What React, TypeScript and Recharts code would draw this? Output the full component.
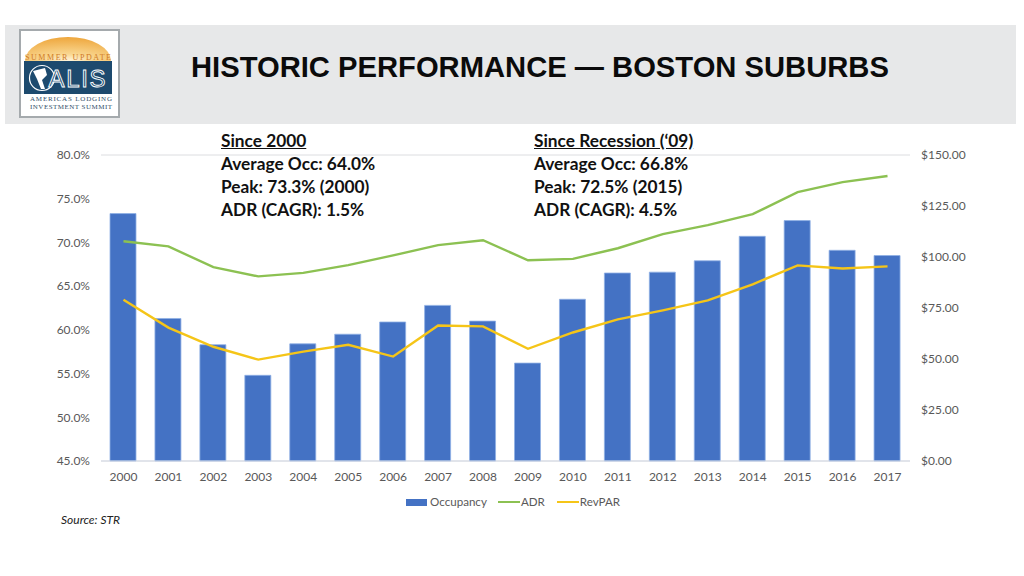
import { Bar, CartesianGrid, ComposedChart, Legend, Line, XAxis, YAxis } from 'recharts'

const YEARS = ['2000', '2001', '2002', '2003', '2004', '2005', '2006', '2007', '2008', '2009', '2010', '2011', '2012', '2013', '2014', '2015', '2016', '2017']
const OCCUPANCY = [73.3, 61.3, 58.3, 54.8, 58.4, 59.5, 60.9, 62.8, 61.0, 56.2, 63.5, 66.5, 66.6, 67.9, 70.7, 72.5, 69.1, 68.5]
const ADR = [107.7, 105.2, 95, 90.5, 92.2, 96, 100.8, 105.8, 108.2, 98.4, 99.1, 104.3, 111.2, 115.6, 121, 131.8, 136.7, 139.7]
const REVPAR = [79, 65.4, 56, 49.7, 53.6, 57, 51.2, 66.4, 66, 55, 63, 69.4, 73.8, 78.7, 86.6, 95.9, 94.4, 95.4]
const OCC_TICKS = [45, 50, 55, 60, 65, 70, 75, 80]
const USD_TICKS = [0, 25, 50, 75, 100, 125, 150]
const SINCE_2000 = ['Average Occ: 64.0%', 'Peak: 73.3% (2000)', 'ADR (CAGR): 1.5%']
const SINCE_RECESSION = ['Average Occ: 66.8%', 'Peak: 72.5% (2015)', 'ADR (CAGR): 4.5%']

const chartData = YEARS.map((year, i) => ({
  year,
  occupancy: OCCUPANCY[i],
  adr: ADR[i],
  revpar: REVPAR[i],
}))

const BODY_FONT = 'Lato, "Open Sans", sans-serif'
const TICK = { fontSize: 12, fill: '#595959', fontFamily: BODY_FONT }

function Callout({ left, heading, lines }: { left: number; heading: string; lines: string[] }) {
  return (
    <div style={{ position: 'absolute', left, top: 129, fontFamily: BODY_FONT, fontWeight: 700, fontSize: 17.3, lineHeight: '23px', color: '#111', whiteSpace: 'nowrap' }}>
      <div style={{ textDecoration: 'underline' }}>{heading}</div>
      {lines.map((line) => (
        <div key={line}>{line}</div>
      ))}
    </div>
  )
}

// rough redraw of the summit logo
function Logo() {
  return (
    <svg width={102} height={90} style={{ position: 'absolute', left: 19, top: 29 }}>
      <defs>
        <radialGradient id="sun" cx="0.5" cy="1" r="1">
          <stop offset="0" stopColor="#fff6df" />
          <stop offset="0.3" stopColor="#f9d68f" />
          <stop offset="1" stopColor="#eea63c" />
        </radialGradient>
      </defs>
      <rect x={1} y={1} width={99} height={87} fill="#fff" stroke="#a5aaad" strokeWidth={2} />
      <path d="M6 32 A43 24 0 0 1 92 32 Z" fill="url(#sun)" />
      <text x={49} y={31} textAnchor="middle" fontFamily="Liberation Serif" fontSize={8} fill="#cf7a26" textLength={86}>SUMMER UPDATE</text>
      <rect x={5} y={32} width={88} height={33} fill="#1d4a6e" />
      <circle cx={23} cy={49} r={12.5} fill="#1d4a6e" stroke="#fff" strokeWidth={1.2} />
      <path d="M14 42 L26 39 L28 46 L23 51 L26 60 L22 60 L18 50 Z" fill="#fff" />
      <text x={58} y={58} textAnchor="middle" fontFamily="Liberation Sans" fontSize={24} fill="#1d4a6e" stroke="#fff" strokeWidth={0.9} textLength={57}>ALIS</text>
      <text x={52} y={72} textAnchor="middle" fontFamily="Liberation Serif" fontSize={7} fill="#33506a" textLength={82}>AMERICAS LODGING</text>
      <text x={52} y={80} textAnchor="middle" fontFamily="Liberation Serif" fontSize={7} fill="#33506a" textLength={82}>INVESTMENT SUMMIT</text>
    </svg>
  )
}

export default function App() {
  return (
    <div style={{ position: 'absolute', left: 0, top: 0, width: 1024, height: 576, background: '#fff', overflow: 'hidden' }}>
      <div style={{ position: 'absolute', left: 5, top: 25, width: 1011, height: 99, background: '#e7e8e9' }} />
      <Logo />
      <div style={{ position: 'absolute', left: 191, top: 50, fontFamily: '"Liberation Sans", Arial, sans-serif', fontWeight: 700, fontSize: 29.2, lineHeight: '34px', color: '#0b0b0b', whiteSpace: 'nowrap' }}>
        HISTORIC PERFORMANCE — BOSTON SUBURBS
      </div>

      <div style={{ position: 'absolute', left: 0, top: 0 }}>
        <ComposedChart width={1024} height={576} data={chartData} margin={{ top: 155, right: 44, bottom: 47, left: 31 }}>
          <CartesianGrid vertical={false} stroke="#dcdde0" strokeWidth={1} />
          <XAxis
            dataKey="year"
            tick={TICK}
            tickLine={false}
            axisLine={{ stroke: '#d5dae6' }}
            tickMargin={5}
            height={52}
            interval={0}
          />
          <YAxis
            yAxisId="occ"
            domain={[45, 80]}
            ticks={OCC_TICKS}
            tickFormatter={(v: number) => `${v.toFixed(1)}%`}
            tick={TICK}
            tickLine={false}
            axisLine={false}
            tickMargin={5}
            width={70}
          />
          <YAxis
            yAxisId="usd"
            orientation="right"
            domain={[0, 150]}
            ticks={USD_TICKS}
            tickFormatter={(v: number) => `$${v.toFixed(2)}`}
            tick={TICK}
            tickLine={false}
            axisLine={false}
            tickMargin={5}
            width={70}
          />
          <Legend
            wrapperStyle={{ position: 'absolute', left: 404, top: 494, width: 230, height: 16, fontFamily: BODY_FONT }}
            content={() => (
              <div style={{ display: 'flex', alignItems: 'center', color: '#595959', fontSize: 11.6, lineHeight: '16px' }}>
                <span style={{ width: 21, height: 7, background: '#4472c4', marginLeft: 2, marginRight: 3 }} />
                <span>Occupancy</span>
                <span style={{ width: 22, height: 2, background: '#8cc152', marginLeft: 11, marginRight: 1 }} />
                <span>ADR</span>
                <span style={{ width: 22, height: 2, background: '#f5c518', marginLeft: 12, marginRight: 1 }} />
                <span>RevPAR</span>
              </div>
            )}
          />
          <Bar yAxisId="occ" dataKey="occupancy" name="Occupancy" fill="#4472c4" stroke="#8fb0e4" strokeWidth={0.8} barSize={26} isAnimationActive={false} />
          <Line yAxisId="usd" dataKey="adr" name="ADR" stroke="#8cc152" strokeWidth={2.4} dot={false} isAnimationActive={false} />
          <Line yAxisId="usd" dataKey="revpar" name="RevPAR" stroke="#f5c518" strokeWidth={2.4} dot={false} isAnimationActive={false} />
        </ComposedChart>
      </div>

      <Callout left={221} heading="Since 2000" lines={SINCE_2000} />
      <Callout left={534} heading="Since Recession (‘09)" lines={SINCE_RECESSION} />
      <div style={{ position: 'absolute', left: 61, top: 512, fontFamily: BODY_FONT, fontStyle: 'italic', fontSize: 12, color: '#222' }}>Source: STR</div>
    </div>
  )
}
